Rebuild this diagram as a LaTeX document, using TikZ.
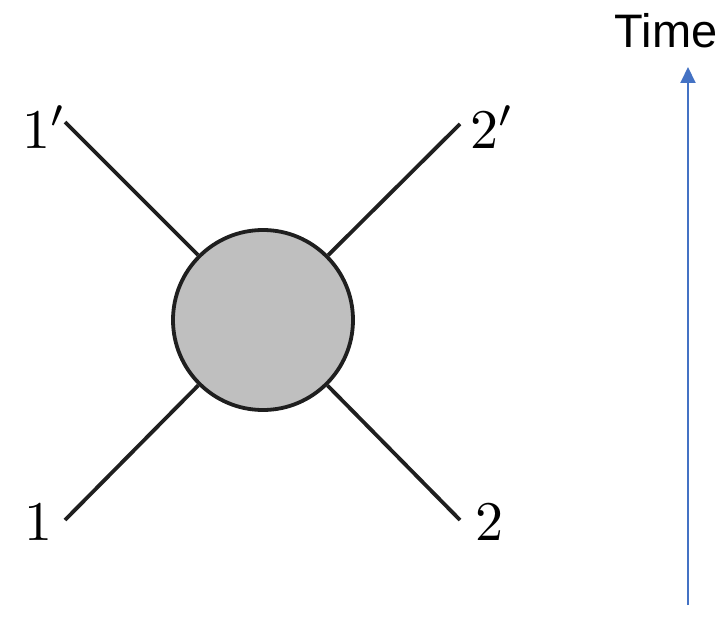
\documentclass[tikz,border=0pt]{standalone}
\usepackage{amsmath,amssymb}
\usepackage{fontspec}
\newfontfamily\timefont{Liberation Sans}
\usetikzlibrary{arrows.meta}

\begin{document}
\begin{tikzpicture}[x=1pt,y=-1pt]
\definecolor{fillColor}{gray}{0.75}
\definecolor{arrowColor}{RGB}{68,114,196}
\tikzset{
  legline/.style={draw=black!88,line width=3.8pt},
  leglabel/.style={inner sep=0pt,outer sep=0pt,scale=5.6}
}
\path[use as bounding box,fill=white] (0,0) rectangle (726,618);

% scattering blob and legs
\node[circle,draw=black!88,line width=3.8pt,fill=fillColor,minimum size=180pt,inner sep=0pt] (blob) at (263,320) {};
\coordinate (endA) at ( 65,122);
\coordinate (endB) at (460,124);
\coordinate (endC) at ( 65,520);
\coordinate (endD) at (460,520);
\path[legline] (blob) -- (endA);
\path[legline] (blob) -- (endB);
\path[legline] (blob) -- (endC);
\path[legline] (blob) -- (endD);

\node[leglabel] (labA) at ( 44,127) {$1'$};
\node[leglabel] (labB) at (492,127) {$2'$};
\node[leglabel] (labC) at ( 38,522) {$1$};
\node[leglabel] (labD) at (489,522) {$2$};

% time axis
\coordinate (tbot) at (688,605);
\node[text=black,anchor=base,inner sep=0pt,outer sep=0pt,font=\timefont\fontsize{47}{50}\selectfont] (tlab) at (666,48) {Time};
\coordinate (ttop) at (688,67);
\draw[draw=arrowColor,line width=2pt,-{Triangle[length=16pt,width=15pt]}] (tbot) -- (ttop);
\end{tikzpicture}
\end{document}
